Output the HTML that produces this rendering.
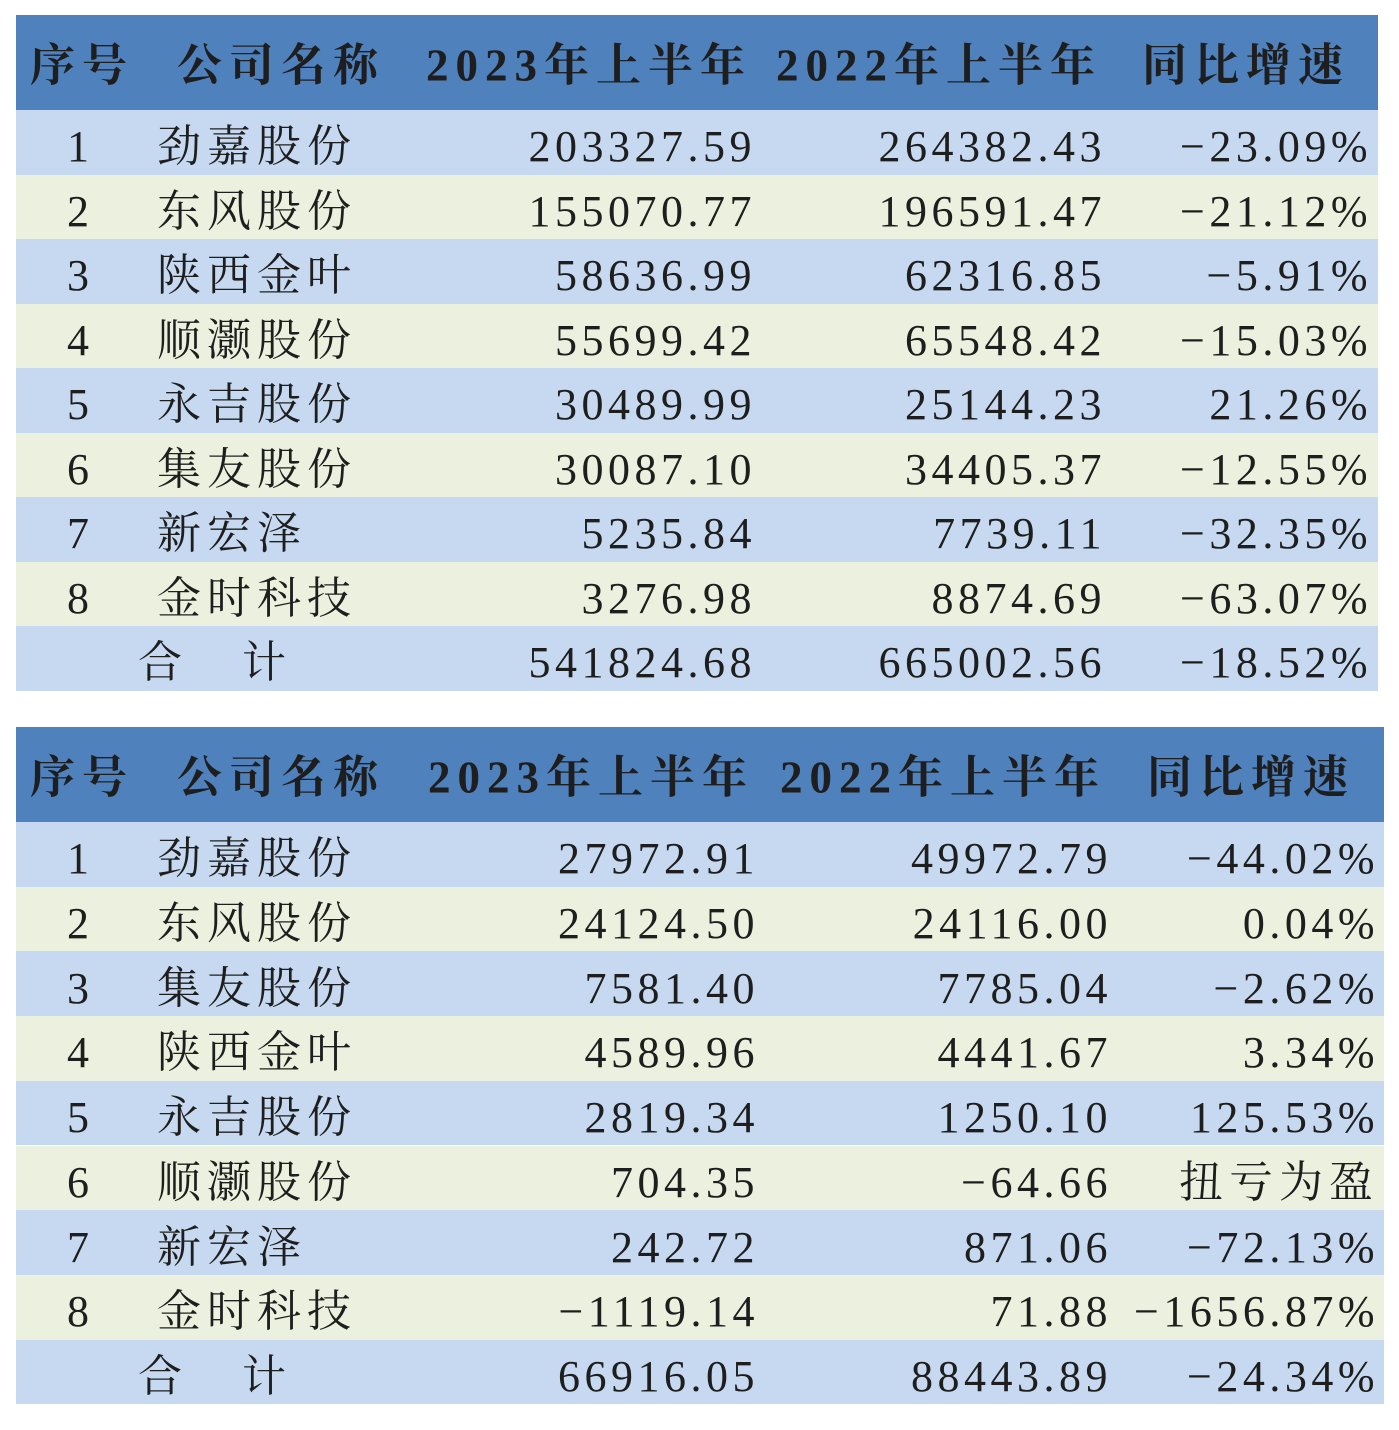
<!DOCTYPE html>
<html><head><meta charset="utf-8"><style>
body{margin:0;width:1399px;height:1430px;background:#fff;position:relative;overflow:hidden;font-family:"Liberation Serif","Noto Serif CJK SC",serif;color:#1e1e1e}
.tbl{position:absolute}
.row{position:absolute;left:0;right:0}
.c{position:absolute;white-space:nowrap;top:50%;transform:translateY(calc(-50% + 5px));font-size:44px;line-height:1}
.hd .c{font-weight:bold;font-size:45px;letter-spacing:7px;transform:translateY(calc(-50% + 3px))}
.num{letter-spacing:4.5px}
.zh{letter-spacing:6px}
</style></head><body>
<div id="root"></div>
<script>
const headers=["序号","公司名称","2023年上半年","2022年上半年","同比增速"];
const t1Names=["劲嘉股份","东风股份","陕西金叶","顺灏股份","永吉股份","集友股份","新宏泽","金时科技","合　计"];
const t1Y2023=["203327.59","155070.77","58636.99","55699.42","30489.99","30087.10","5235.84","3276.98","541824.68"];
const t1Y2022=["264382.43","196591.47","62316.85","65548.42","25144.23","34405.37","7739.11","8874.69","665002.56"];
const t1Growth=["-23.09%","-21.12%","-5.91%","-15.03%","21.26%","-12.55%","-32.35%","-63.07%","-18.52%"];
const t2Names=["劲嘉股份","东风股份","集友股份","陕西金叶","永吉股份","顺灏股份","新宏泽","金时科技","合　计"];
const t2Y2023=["27972.91","24124.50","7581.40","4589.96","2819.34","704.35","242.72","-1119.14","66916.05"];
const t2Y2022=["49972.79","24116.00","7785.04","4441.67","1250.10","-64.66","871.06","71.88","88443.89"];
const t2Growth=["-44.02%","0.04%","-2.62%","3.34%","125.53%","扭亏为盈","-72.13%","-1656.87%","-24.34%"];

function fmt(s){return s.replace(/^-/,'\u2212');}
function cell(parent,txt,cls,style,name){
  const d=document.createElement('div');
  d.className='c '+cls;d.textContent=txt;d.style.cssText+=style;
  
  
  parent.appendChild(d);
}
function build(cfg,names,a,b,g,idx){
  const t=document.createElement('div');t.className='tbl';
  t.style.cssText=`left:${cfg.x}px;top:${cfg.y}px;width:${cfg.w}px;height:${cfg.hh+9*cfg.rh}px`;
  
  
  document.getElementById('root').appendChild(t);
  const h=document.createElement('div');h.className='row hd';
  h.style.cssText=`top:0;height:${cfg.hh}px;background:#4f81bd`;
  
  
  t.appendChild(h);
  cfg.hx.forEach((x,i)=>cell(h,headers[i],'',`left:${x-cfg.x}px`,'header-cell'));
  for(let r=0;r<9;r++){
    const row=document.createElement('div');row.className='row';
    row.style.cssText=`top:${cfg.hh+r*cfg.rh}px;height:${cfg.rh}px;background:${r%2?'#ebf1de':'#c6d9f0'}`;
    
    
    t.appendChild(row);
    if(r<8) cell(row,String(r+1),'num',`left:${78-cfg.x-11}px`,'row-index');
    cell(row,names[r],'zh',`left:${(r==8?138:157)-cfg.x}px`+(r==8?';letter-spacing:8px':''),'company-name');
    cell(row,fmt(a[r]),'num',`right:${cfg.x+cfg.w-cfg.r[0]-4}px`,'value-2023');
    cell(row,fmt(b[r]),'num',`right:${cfg.x+cfg.w-cfg.r[1]-4}px`,'value-2022');
    cell(row,fmt(g[r]),isNaN(parseFloat(g[r]))?'zh':'num',`right:${cfg.x+cfg.w-cfg.r[2]-4}px`,'growth-rate');
  }
}
build({x:16,y:15,w:1362,hh:95,rh:64.5,hx:[30,177,426,776,1142],r:[752,1102,1368]},t1Names,t1Y2023,t1Y2022,t1Growth,1);
build({x:16,y:727,w:1368,hh:95,rh:64.7,hx:[30,177,428,780,1147],r:[755,1108,1375]},t2Names,t2Y2023,t2Y2022,t2Growth,2);
</script>
</body></html>
